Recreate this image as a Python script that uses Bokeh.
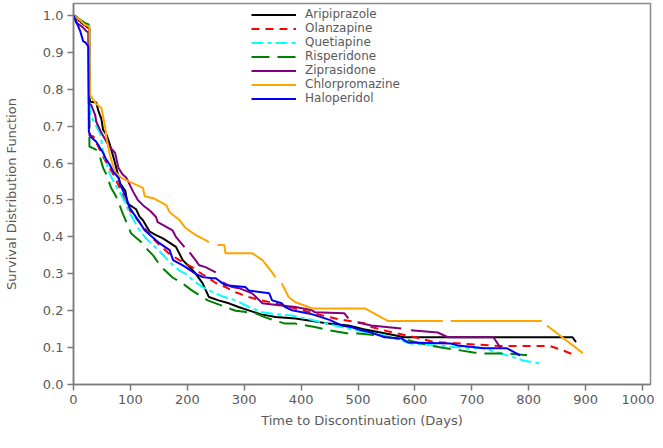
from bokeh.plotting import figure
from bokeh.models import FixedTicker, PrintfTickFormatter, Legend, LegendItem, Range1d
from bokeh.embed import file_html
from bokeh.resources import INLINE

NaN = float("nan")

# ---- data; NaN marks a visible break in the line ----
ari_days = [0, 5, 14, 23, 28, 29, 40, 44, 49, 52, 58, 64, 73, 82, 91, 95, 110, 116, 122, 134, 145, 157, 168, 180, 192, 206, 215, 227, 238, 255, 273, 290, 308, 330, 355, 390, 420, 448, 483, 510, 535, 560, 581, 877, 883]
ari_surv = [1.0, 0.997, 0.98, 0.97, 0.965, 0.766, 0.764, 0.74, 0.72, 0.69, 0.677, 0.65, 0.60, 0.545, 0.525, 0.49, 0.475, 0.455, 0.445, 0.414, 0.405, 0.396, 0.385, 0.373, 0.337, 0.315, 0.30, 0.274, 0.237, 0.228, 0.22, 0.21, 0.201, 0.19, 0.183, 0.179, 0.172, 0.165, 0.16, 0.15, 0.142, 0.135, 0.128, 0.128, 0.115]

ola_days = [0, 10, 20, 27, 28, 35, 45, 52, 60, 68, 75, 85, 93, 100, 108, 118, 128, 140, 157, 170, 186, 200, 212, 225, 238, 250, 267, 285, 308, 330, 355, 380, 401, 425, 448, 470, 494, 511, 523, 545, 570, 600, 634, 681, 750, 838, 861, 877]
ola_surv = [1.0, 0.985, 0.975, 0.97, 0.675, 0.672, 0.64, 0.618, 0.595, 0.575, 0.554, 0.52, 0.486, 0.47, 0.455, 0.435, 0.418, 0.395, 0.37, 0.352, 0.337, 0.325, 0.315, 0.30, 0.288, 0.275, 0.264, 0.25, 0.237, 0.228, 0.22, 0.21, 0.201, 0.192, 0.183, 0.176, 0.17, 0.166, 0.156, 0.147, 0.138, 0.128, 0.115, 0.111, 0.104, 0.104, 0.092, 0.082]

que_days = [0, 10, 20, 28, 29, 35, 40, 47, 52, 58, 64, 72, 80, 87, 99, 108, 116, 128, 140, 155, 170, 185, 197, 212, 227, 238, 260, 285, 308, 332, 360, 384, 420, 450, 483, 520, 547, 593, 634, 680, 721, 762, 791, 820]
que_surv = [1.0, 0.99, 0.98, 0.973, 0.73, 0.715, 0.70, 0.68, 0.63, 0.60, 0.57, 0.545, 0.525, 0.505, 0.464, 0.44, 0.418, 0.395, 0.378, 0.355, 0.33, 0.31, 0.30, 0.28, 0.264, 0.255, 0.24, 0.228, 0.21, 0.196, 0.19, 0.187, 0.175, 0.163, 0.151, 0.14, 0.133, 0.111, 0.106, 0.10, 0.098, 0.079, 0.065, 0.057]

ris_days = [0, 10, 20, 27, 28, 35, 40, 47, 52, 58, 66, 73, 79, 86, 93, 101, 110, 119, 131, 140, 148, 160, 174, 185, 195, 208, 221, 236, 250, 267, 285, 300, 320, 337, 355, 372, 390, 424, 448, 483, 501, 535, 553, 588, 611, 646, 669, 703, 721, 762, 797]
ris_surv = [1.0, 0.99, 0.98, 0.975, 0.645, 0.64, 0.636, 0.614, 0.587, 0.568, 0.533, 0.515, 0.495, 0.465, 0.44, 0.41, 0.398, 0.386, 0.364, 0.35, 0.332, 0.31, 0.29, 0.28, 0.27, 0.255, 0.242, 0.228, 0.22, 0.21, 0.20, 0.197, 0.193, 0.182, 0.173, 0.165, 0.165, 0.156, 0.147, 0.138, 0.138, 0.133, 0.128, 0.12, 0.111, 0.10, 0.095, 0.087, 0.084, 0.084, 0.079]

zip_days = [0, 5, 9, 15, 23, 26, 27, 31, 38, 40, 49, 58, 66, 73, 79, 86, 93, 105, 113, 122, 135, 145, 148, 160, 174, 180, 188, 195, NaN, 204, 213, 221, 232, 250, NaN, 262, 279, 291, 314, 332, 361, 390, 419, 424, 476, 483, NaN, 500, 523, 576, NaN, 593, 640, 658, 738, 750]
zip_surv = [1.0, 0.98, 0.976, 0.97, 0.957, 0.955, 0.76, 0.758, 0.731, 0.712, 0.682, 0.658, 0.64, 0.628, 0.587, 0.57, 0.56, 0.522, 0.50, 0.486, 0.47, 0.454, 0.44, 0.43, 0.418, 0.40, 0.385, 0.372, NaN, 0.358, 0.34, 0.323, 0.318, 0.304, NaN, 0.277, 0.264, 0.261, 0.247, 0.22, 0.215, 0.21, 0.201, 0.196, 0.193, 0.179, NaN, 0.168, 0.16, 0.152, NaN, 0.147, 0.141, 0.128, 0.128, 0.10]

chl_days = [0, 10, 20, 28, 29, 40, 49, 56, 58, 64, 70, 73, 84, 99, 122, 125, 140, 163, 169, 186, 197, 215, 232, 238, NaN, 253, 265, 267, 314, 332, 346, 355, NaN, 366, 378, 390, 413, 419, 512, 553, 649, NaN, 663, 823, NaN, 832, 895]
chl_surv = [1.0, 0.99, 0.975, 0.97, 0.785, 0.76, 0.75, 0.695, 0.668, 0.622, 0.59, 0.576, 0.56, 0.549, 0.533, 0.51, 0.505, 0.486, 0.467, 0.446, 0.424, 0.405, 0.391, 0.386, NaN, 0.378, 0.378, 0.356, 0.356, 0.337, 0.31, 0.291, NaN, 0.274, 0.237, 0.223, 0.21, 0.206, 0.206, 0.172, 0.172, NaN, 0.172, 0.172, NaN, 0.16, 0.085]

hal_days = [0, 3, 12, 17, 21, 26, 27, 31, 40, 47, 52, 56, 64, 70, 79, 82, 93, 99, 116, 125, 145, 151, 169, 175, 192, 197, 215, 227, 244, 250, 262, 267, 302, 308, 344, 349, 366, 372, 384, 420, 450, 471, 489, 506, 523, 547, 576, 588, 663, 675, 710, 721, 762, 785]
hal_surv = [1.0, 0.99, 0.957, 0.93, 0.927, 0.916, 0.685, 0.67, 0.658, 0.64, 0.628, 0.614, 0.595, 0.576, 0.56, 0.542, 0.505, 0.478, 0.44, 0.418, 0.391, 0.383, 0.364, 0.337, 0.323, 0.318, 0.30, 0.291, 0.288, 0.288, 0.274, 0.269, 0.264, 0.255, 0.247, 0.228, 0.22, 0.21, 0.201, 0.19, 0.175, 0.16, 0.155, 0.147, 0.141, 0.128, 0.125, 0.114, 0.111, 0.106, 0.10, 0.098, 0.098, 0.079]

names = ["Aripiprazole", "Olanzapine", "Quetiapine", "Risperidone", "Ziprasidone", "Chlorpromazine", "Haloperidol"]
x_ticks = [0, 100, 200, 300, 400, 500, 600, 700, 800, 900, 1000]
y_ticks = [0.0, 0.1, 0.2, 0.3, 0.4, 0.5, 0.6, 0.7, 0.8, 0.9, 1.0]

series = [
    (ari_days, ari_surv, "black", "solid"),
    (ola_days, ola_surv, "red", "8 6"),
    (que_days, que_surv, "cyan", "12 4 4 4"),
    (ris_days, ris_surv, "green", "18 8"),
    (zip_days, zip_surv, "purple", "solid"),
    (chl_days, chl_surv, "orange", "solid"),
    (hal_days, hal_surv, "blue", "solid"),
]

FONT = "DejaVu Sans"
TXT = "#5a5a5a"
AX = "#7a7a7a"

p = figure(width=654, height=440, output_backend="svg", toolbar_location=None,
           x_range=Range1d(0, 1014), y_range=Range1d(0, 1.0325),
           min_border_left=69, min_border_right=4, min_border_top=3, min_border_bottom=56)

p.xgrid.visible = False
p.ygrid.visible = False
p.outline_line_color = "#8a8a8a"
p.outline_line_width = 1.5
p.background_fill_color = "white"
p.border_fill_color = "white"

# one single-entry legend per series, stacked at a fixed step
LEG_X, LEG_TOP, LEG_STEP = 178, 363, 14
for i, ((d, s, c, dash), nm) in enumerate(zip(series, names)):
    r = p.line(d, s, line_color=c, line_width=2, line_dash=dash)
    leg = Legend(items=[LegendItem(label=nm, renderers=[r])],
                 location=(LEG_X, LEG_TOP - LEG_STEP * i), padding=0, margin=0, spacing=0,
                 glyph_width=45, glyph_height=13, label_height=13, label_standoff=9,
                 label_text_font=FONT, label_text_font_size="12px", label_text_color=TXT,
                 background_fill_alpha=0, border_line_alpha=0)
    p.add_layout(leg)

for ax in (p.xaxis[0], p.yaxis[0]):
    ax.axis_line_color = AX
    ax.axis_line_width = 1.5
    ax.major_tick_line_color = AX
    ax.major_tick_line_width = 1.5
    ax.major_tick_out = 6
    ax.major_tick_in = 0
    ax.minor_tick_line_color = None
    ax.major_label_text_font = FONT
    ax.major_label_text_font_size = "13px"
    ax.major_label_text_color = TXT
    ax.axis_label_text_font = FONT
    ax.axis_label_text_font_size = "13px"
    ax.axis_label_text_font_style = "normal"
    ax.axis_label_text_color = TXT

p.xaxis.ticker = FixedTicker(ticks=x_ticks)
p.yaxis.ticker = FixedTicker(ticks=y_ticks)
p.yaxis.formatter = PrintfTickFormatter(format="%.1f")
p.xaxis.axis_label = "Time to Discontinuation (Days)"
p.yaxis.axis_label = "Survival Distribution Function"
p.xaxis.major_label_standoff = 4
p.yaxis.major_label_standoff = 4
p.xaxis.axis_label_standoff = 6
p.yaxis.axis_label_standoff = 21

open("out.html", "w").write(file_html(p, INLINE))
